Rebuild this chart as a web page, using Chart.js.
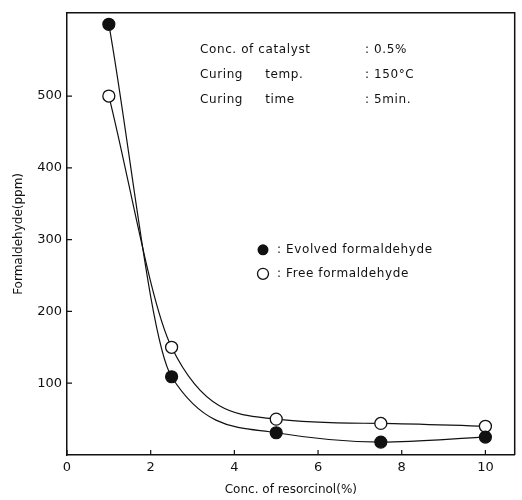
<!DOCTYPE html>
<html>
<head>
<meta charset="utf-8">
<script src="https://cdn.jsdelivr.net/npm/chart.js@4"></script>
<style>
  html, body { margin: 0; padding: 0; background: #fff; }
</style>
</head>
<body>
<canvas id="chart" width="522" height="500"></canvas>
<script>
// data
const resorcinol = [1, 2.5, 5, 7.5, 10];
const evolvedFormaldehyde = [600, 109, 31, 18, 25];
const freeFormaldehyde = [500, 150, 50, 44, 40];
const xTickValues = [0, 2, 4, 6, 8, 10];
const yTickValues = [100, 200, 300, 400, 500];
const infoNames = ["Conc. of catalyst", "Curing     temp.", "Curing     time"];
const infoValues = [": 0.5%", ": 150\u00b0C", ": 5min."];
const legendLabels = [": Evolved formaldehyde", ": Free formaldehyde"];

const ink = "#111";
const fontFamily = "'DejaVu Sans', sans-serif";

// box, inward ticks, notes and legend
const framePlugin = {
    id: "frame",
    afterDraw(chart) {
        const ctx = chart.ctx;
        const a = chart.chartArea;
        const xs = chart.scales.x, ys = chart.scales.y;
        ctx.save();
        ctx.strokeStyle = ink;
        ctx.lineWidth = 1.5;
        ctx.beginPath();
        ctx.moveTo(a.left, a.top);
        ctx.lineTo(a.right, a.top);
        ctx.lineTo(a.right, a.bottom);
        ctx.stroke();

        ctx.lineWidth = 1.2;
        ctx.beginPath();
        xTickValues.forEach(v => {
            const px = xs.getPixelForValue(v);
            ctx.moveTo(px, a.bottom);
            ctx.lineTo(px, a.bottom - 5);
        });
        yTickValues.forEach(v => {
            const py = ys.getPixelForValue(v);
            ctx.moveTo(a.left, py);
            ctx.lineTo(a.left + 5, py);
        });
        ctx.stroke();

        // notes on curing conditions
        ctx.fillStyle = ink;
        ctx.font = "12px " + fontFamily;
        ctx.textBaseline = "middle";
        ctx.letterSpacing = "0.6px";
        infoNames.forEach((name, i) => {
            const y = a.top + 37 + i * 25;
            ctx.fillText(name, a.left + 133, y);
            ctx.fillText(infoValues[i], a.left + 298, y);
        });

        // legend
        const lx = a.left + 196;
        [237, 261].forEach((dy, i) => {
            ctx.beginPath();
            ctx.arc(lx, a.top + dy, 5.5, 0, Math.PI * 2);
            if (i === 0) { ctx.fillStyle = ink; ctx.fill(); }
            else { ctx.fillStyle = "#fff"; ctx.fill(); ctx.lineWidth = 1.3; ctx.stroke(); }
            ctx.fillStyle = ink;
            ctx.fillText(legendLabels[i], lx + 14, a.top + dy);
        });
        ctx.restore();
    }
};

new Chart(document.getElementById("chart"), {
    type: "line",
    data: {
        datasets: [
            {
                label: "Evolved formaldehyde",
                data: resorcinol.map((x, i) => ({ x, y: evolvedFormaldehyde[i] })),
                borderColor: ink,
                borderWidth: 1.2,
                pointRadius: 6,
                pointBackgroundColor: ink,
                pointBorderColor: ink,
                cubicInterpolationMode: "monotone",
                fill: false
            },
            {
                label: "Free formaldehyde",
                data: resorcinol.map((x, i) => ({ x, y: freeFormaldehyde[i] })),
                borderColor: ink,
                borderWidth: 1.2,
                pointRadius: 6,
                pointBorderWidth: 1.3,
                pointBackgroundColor: "#fff",
                pointBorderColor: ink,
                cubicInterpolationMode: "monotone",
                fill: false
            }
        ]
    },
    options: {
        responsive: false,
        animation: false,
        devicePixelRatio: 1,
        layout: { padding: { top: 8, right: 3, left: 0, bottom: 0 } },
        plugins: {
            legend: { display: false },
            tooltip: { enabled: false }
        },
        scales: {
            x: {
                type: "linear",
                min: 0,
                max: 10.7,
                afterBuildTicks: s => { s.ticks = xTickValues.map(v => ({ value: v })); },
                afterFit: s => { s.height = 45; },
                grid: { display: false, drawTicks: false },
                border: { color: ink, width: 1.5 },
                ticks: { color: ink, padding: 5, maxRotation: 0, font: { family: fontFamily, size: 13 } },
                title: {
                    display: true,
                    text: "Conc. of resorcinol(%)",
                    color: ink,
                    font: { family: fontFamily, size: 12 },
                    padding: { top: 0, bottom: 3 }
                }
            },
            y: {
                min: 0,
                max: 616,
                afterBuildTicks: s => { s.ticks = yTickValues.map(v => ({ value: v })); },
                afterFit: s => { s.width = 67; },
                grid: { display: false, drawTicks: false },
                border: { color: ink, width: 1.5 },
                ticks: { color: ink, padding: 5, font: { family: fontFamily, size: 13 } },
                title: {
                    display: true,
                    text: "Formaldehyde(ppm)",
                    color: ink,
                    font: { family: fontFamily, size: 12 },
                    padding: { top: 12, bottom: 0 }
                }
            }
        }
    },
    plugins: [framePlugin]
});
</script>
</body>
</html>
